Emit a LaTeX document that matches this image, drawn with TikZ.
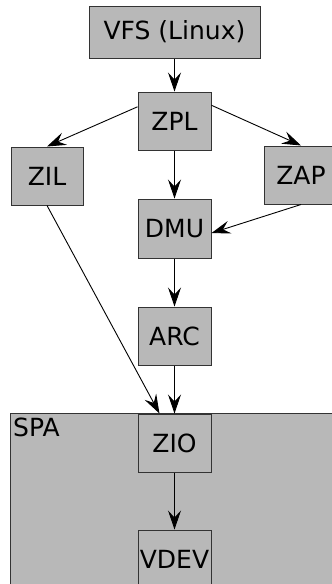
\documentclass[tikz,border=0pt]{standalone}
\usepackage{fontspec}
\setmainfont{DejaVu Sans}
\usepackage{tikz}
\usetikzlibrary{positioning,arrows.meta}

\begin{document}
\begin{tikzpicture}[x=1pt,y=-1pt,
  box/.style={draw=black!80, fill=black!28, line width=1pt, minimum width=73pt,
    minimum height=58pt, inner sep=0pt, font=\fontsize{25}{29}\selectfont},
  arr/.style={-{Stealth[length=19pt,width=13pt,inset=7pt]}, line width=0.9pt}]
\useasboundingbox (0,0) rectangle (332,584);
% the SPA cluster
\draw [draw=black!80, fill=black!28, line width = 1pt] (10,413) rectangle (345,600);
\node [anchor=north west, inner sep=0pt, font=\fontsize{25}{29}\selectfont] (spa) at (13,418) {SPA};
\node [box, minimum width=171pt, minimum height=52pt] (vfs) at (174.5,32) {VFS (Linux)};
\node [box] (zpl) at (174.5,121) {ZPL};
\node [box, minimum width=72pt] (zil) at (47,176) {ZIL};
\node [box] (zap) at (301,175) {ZAP};
\node [box, minimum height=59pt] (dmu) at (174.5,228.5) {DMU};
\node [box] (arc) at (174.5,336) {ARC};
\node [box] (zio) at (174.5,443) {ZIO};
\node [box] (vdev) at (174.5,559) {VDEV};
\draw [arr] (vfs) -- (zpl);
\draw [arr] (zpl.159) -- (zil.north);
\draw [arr] (zpl.23) -- (zap.north);
\draw [arr] (zpl) -- (dmu);
\draw [arr] (zap.south) -- (dmu.-7);
\draw [arr] (dmu) -- (arc);
\draw [arr] (zil.south) -- (zio.117);
\draw [arr] (arc) -- (zio);
\draw [arr] (zio) -- (vdev);
\end{tikzpicture}
\end{document}
